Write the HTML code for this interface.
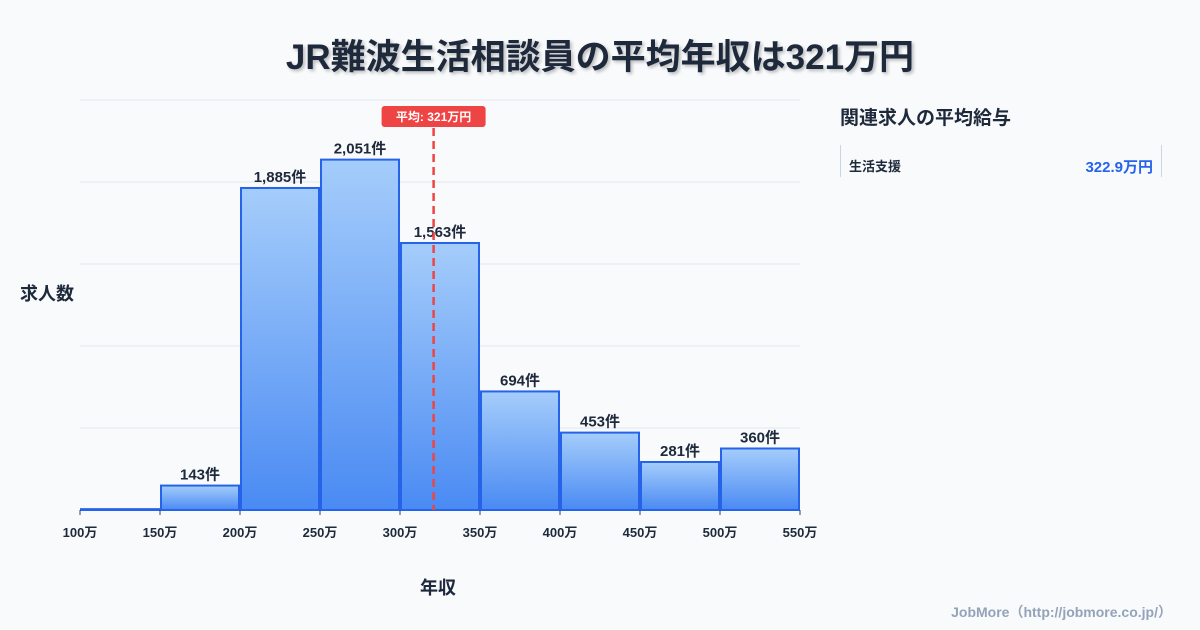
<!DOCTYPE html>
<html><head><meta charset="utf-8"><style>
body{margin:0;width:1200px;height:630px;background:#f8fafc;font-family:"Liberation Sans","Noto Sans CJK JP",sans-serif;overflow:hidden;position:relative}
.t{position:absolute;white-space:nowrap}
</style></head><body>
<div class="t" style="left:0;width:1200px;top:29px;text-align:center;font-size:35px;font-weight:bold;color:#1e293b;text-shadow:2px 2px 3px rgba(0,0,0,0.25)">JR難波生活相談員の平均年収は321万円</div>
<div class="t" style="left:20px;top:280px;font-size:18px;font-weight:bold;color:#1e293b">求人数</div>
<div class="t" style="left:420px;top:574px;font-size:18px;font-weight:bold;color:#1e293b">年収</div>
<div class="t" style="left:840px;top:103px;font-size:19px;font-weight:bold;color:#1e293b">関連求人の平均給与</div>
<div style="position:absolute;left:840px;top:145px;width:320px;height:32px;border-left:1px solid #cbd5e1;border-right:1px solid #cbd5e1">
<span class="t" style="left:8px;top:11px;font-size:13px;font-weight:bold;color:#1e293b">生活支援</span>
<span class="t" style="right:8px;top:11px;font-size:15px;font-weight:bold;color:#2563eb">322.9万円</span>
</div>
<div class="t" style="right:28px;top:602px;font-size:14px;font-weight:bold;color:#94a3b8">JobMore（http://jobmore.co.jp/）</div>
<svg id="c" width="1200" height="630" style="position:absolute;left:0;top:0">
<defs><linearGradient id="g" x1="0" y1="0" x2="0" y2="1"><stop offset="0" stop-color="#a5cdfb"/><stop offset="1" stop-color="#4a8af3"/></linearGradient></defs>
</svg>
<script>
const binStarts=[100,150,200,250,300,350,400,450,500];
const counts=[5,143,1885,2051,1563,694,453,281,360];
const tickLabels=['100万','150万','200万','250万','300万','350万','400万','450万','500万','550万'];
const meanValue=321;
const yTicks=[0,480,960,1440,1920,2400];
const svg=document.getElementById('c');const NS='http://www.w3.org/2000/svg';
const x=v=>80+(v-100)*1.6, y=v=>510-v*410/2400;
function mk(t,a){const e=document.createElementNS(NS,t);for(const k in a)e.setAttribute(k,a[k]);svg.appendChild(e);return e;}
yTicks.forEach(v=>{const e=mk('line',{x1:80,x2:800,y1:y(v),y2:y(v),stroke:'#e2e8f0','stroke-width':1});

});
binStarts.forEach((b,i)=>{const c=counts[i];
const r=mk('rect',{x:x(b)+1,y:y(c),width:x(b+50)-x(b)-2,height:510-y(c),fill:'url(#g)',stroke:'#2563eb','stroke-width':2});


if(c>50){const t=mk('text',{x:(x(b)+x(b+50))/2,y:y(c)-6,'text-anchor':'middle','font-size':15,'font-weight':'bold',fill:'#1e293b'});t.textContent=c.toLocaleString('en-US')+'件';

}});
tickLabels.forEach((l,i)=>{const v=100+i*50;mk('line',{x1:x(v),x2:x(v),y1:510,y2:515,stroke:'#334155'});
const t=mk('text',{x:x(v),y:537,'text-anchor':'middle','font-size':13,'font-weight':'bold',fill:'#1e293b'});t.textContent=l;

});
const ml=mk('line',{x1:x(meanValue),x2:x(meanValue),y1:128,y2:510,stroke:'#ef4444','stroke-width':2.5,'stroke-dasharray':'8,5'});


const mr=mk('rect',{x:x(meanValue)-52,y:106,width:104,height:21,rx:3,fill:'#ef4444'});


const mt=mk('text',{x:x(meanValue),y:121,'text-anchor':'middle','font-size':12,'font-weight':'bold',fill:'#fff'});mt.textContent='平均: '+meanValue+'万円';


</script>
</body></html>
